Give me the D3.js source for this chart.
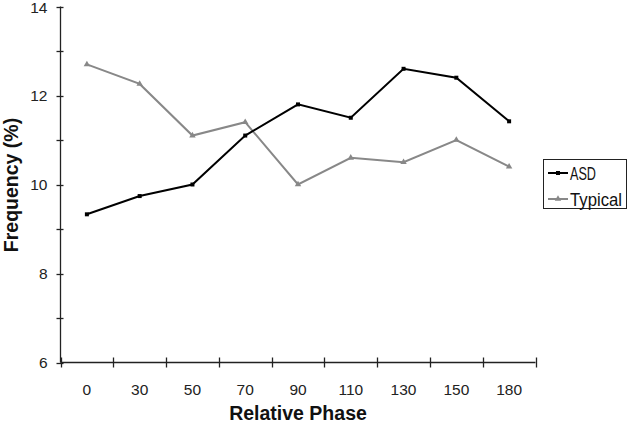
<!DOCTYPE html>
<html>
<head>
<meta charset="utf-8">
<script src="https://cdn.jsdelivr.net/npm/d3@7"></script>
<style>
  body { margin: 0; background: #fff; }
  svg { display: block; font-family: "Liberation Sans", Arial, sans-serif; }
</style>
</head>
<body>
<div id="chart"></div>
<script>
// data
const phases = ["0", "30", "50", "70", "90", "110", "130", "150", "180"];
const asd = [9.33, 9.74, 10.0, 11.1, 11.8, 11.5, 12.6, 12.4, 11.42];
const typical = [12.7, 12.26, 11.1, 11.4, 10.0, 10.6, 10.5, 11.0, 10.4];
const yTicks = [6, 7, 8, 9, 10, 11, 12, 13, 14];

const width = 630, height = 425;
const plot = { left: 60.5, right: 535.5, top: 6.5, bottom: 362.5 };

const svg = d3.select("#chart").append("svg")
  .attr("width", width)
  .attr("height", height);

const x = d3.scaleBand().domain(phases).range([plot.left, plot.right]);
const y = d3.scaleLinear().domain([6, 14]).range([plot.bottom, plot.top]);

// axes
const axisColor = "#222";
svg.append("line")
  .attr("x1", plot.left).attr("x2", plot.left)
  .attr("y1", plot.top).attr("y2", plot.bottom)
  .attr("stroke", axisColor).attr("stroke-width", 1.3);
svg.append("line")
  .attr("x1", plot.left).attr("x2", plot.right)
  .attr("y1", plot.bottom).attr("y2", plot.bottom)
  .attr("stroke", axisColor).attr("stroke-width", 1.3);

// y ticks cross the axis
svg.append("g").selectAll("line").data(yTicks).enter().append("line")
  .attr("x1", plot.left - 4).attr("x2", plot.left + 3)
  .attr("y1", (d) => Math.round(y(d)) + 0.5).attr("y2", (d) => Math.round(y(d)) + 0.5)
  .attr("stroke", axisColor).attr("stroke-width", 1.3);

svg.append("g").selectAll("text").data(yTicks.filter((d) => d % 2 === 0)).enter().append("text")
  .attr("x", plot.left - 13)
  .attr("y", (d) => Math.max(y(d) + 5.5, 12.5))
  .attr("text-anchor", "end")
  .attr("font-size", 15.5)
  .attr("fill", "#222")
  .text((d) => d);

// x ticks at band edges
const edges = phases.map((p) => x(p)).concat([plot.right]);
svg.append("g").selectAll("line").data(edges).enter().append("line")
  .attr("x1", (d) => Math.round(d) + 0.5).attr("x2", (d) => Math.round(d) + 0.5)
  .attr("y1", plot.bottom - 5).attr("y2", plot.bottom + 5)
  .attr("stroke", axisColor).attr("stroke-width", 1.3);

svg.append("g").selectAll("text").data(phases).enter().append("text")
  .attr("x", (d) => x(d) + x.bandwidth() / 2)
  .attr("y", 394.5)
  .attr("text-anchor", "middle")
  .attr("font-size", 15.5)
  .attr("fill", "#222")
  .text((d) => d);

// axis titles
svg.append("text")
  .attr("x", 298).attr("y", 420)
  .attr("text-anchor", "middle")
  .attr("font-size", 19.5).attr("font-weight", "bold")
  .attr("fill", "#111")
  .text("Relative Phase");

svg.append("text")
  .attr("transform", "translate(18,185) rotate(-90)")
  .attr("text-anchor", "middle")
  .attr("font-size", 19.5).attr("font-weight", "bold")
  .attr("fill", "#111")
  .text("Frequency (%)");

// series
const cx = (i) => x(phases[i]) + x.bandwidth() / 2;
const line = d3.line().x((d, i) => cx(i)).y((d) => y(d));

const series = [
  { name: "ASD", values: asd, color: "#000", symbol: d3.symbolSquare, size: 16, textW: 26 },
  { name: "Typical", values: typical, color: "#888", symbol: d3.symbolTriangle, size: 18, textW: 52 },
];

series.slice().reverse().forEach((s) => {
  svg.append("path")
    .attr("d", line(s.values))
    .attr("fill", "none")
    .attr("stroke", s.color)
    .attr("stroke-width", 2);
  svg.append("g").selectAll("path").data(s.values).enter().append("path")
    .attr("d", d3.symbol().type(s.symbol).size(s.size))
    .attr("transform", (d, i) => `translate(${cx(i)},${y(d)})`)
    .attr("fill", s.color);
});

// legend
const legend = svg.append("g");
legend.append("rect")
  .attr("x", 543.5).attr("y", 159.5)
  .attr("width", 83).attr("height", 49)
  .attr("fill", "#fff").attr("stroke", "#222").attr("stroke-width", 1);

series.forEach((s, i) => {
  const ly = 173 + i * 26;
  legend.append("line")
    .attr("x1", 548).attr("x2", 568)
    .attr("y1", ly).attr("y2", ly)
    .attr("stroke", s.color).attr("stroke-width", 2);
  legend.append("path")
    .attr("d", d3.symbol().type(s.symbol).size(s.size))
    .attr("transform", `translate(558,${ly})`)
    .attr("fill", s.color);
  legend.append("text")
    .attr("x", 570).attr("y", ly + 6.5)
    .attr("font-size", 17.5)
    .attr("textLength", s.textW)
    .attr("lengthAdjust", "spacingAndGlyphs")
    .attr("fill", "#111")
    .text(s.name);
});
</script>
</body>
</html>
